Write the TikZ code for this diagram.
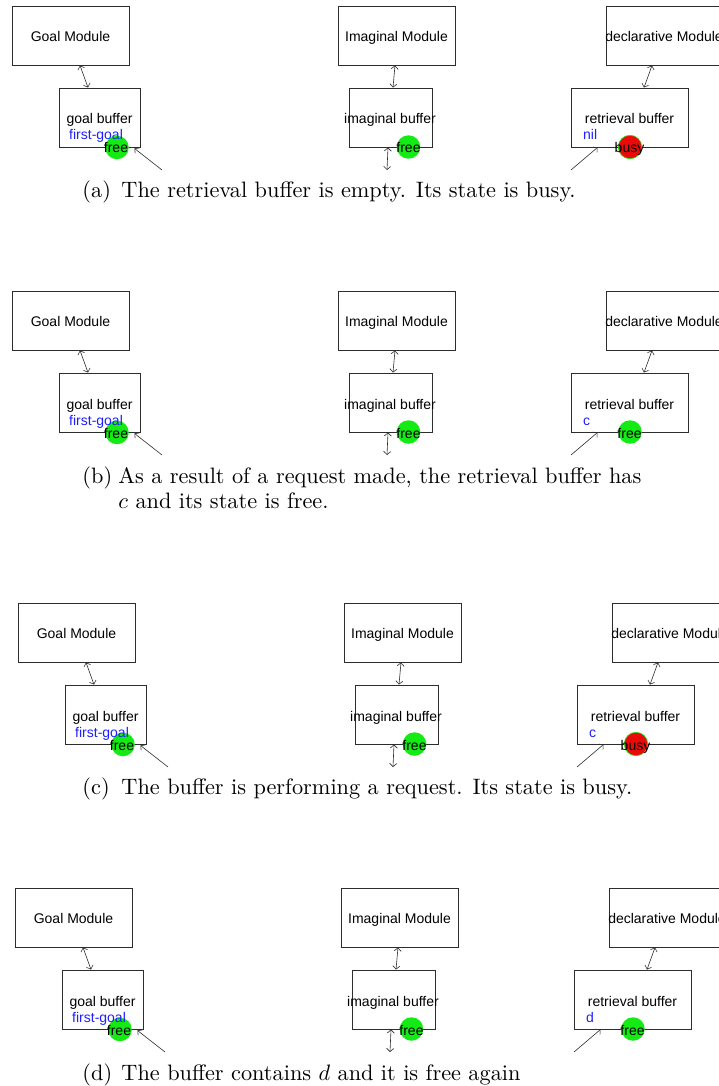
\documentclass[tikz,border=0pt]{standalone}
\usepackage{fontspec}
\newfontfamily\uifont{Liberation Sans}
\usetikzlibrary{arrows.meta}
\definecolor{fgreen}{RGB}{20,235,20}
\definecolor{bred}{RGB}{235,10,10}
\definecolor{cblue}{RGB}{30,30,255}
\definecolor{edge}{RGB}{45,45,45}
\tikzset{
  box/.style={draw=edge, line width=0.9pt, rectangle, inner sep=0pt, minimum height=59pt},
  ui/.style={font=\uifont\fontsize{14}{16}\selectfont, inner sep=0pt, anchor=base},
  content/.style={ui, text=cblue, anchor=base west},
  freecirc/.style={circle, fill=fgreen, minimum size=23.5pt, inner sep=0pt},
  busycirc/.style={circle, fill=bred, draw=fgreen, line width=0.6pt, minimum size=23.5pt, inner sep=0pt},
  darr/.style={{Straight Barb[length=3.2pt,width=7pt]}-{Straight Barb[length=3.2pt,width=7pt]}, line width=0.6pt, draw=edge},
  sarr/.style={-{Straight Barb[length=3.2pt,width=7pt]}, line width=0.6pt, draw=edge},
  captxt/.style={anchor=base west, inner sep=0pt, scale=2.23}
}
% #1 prefix, #2 dx, #3 dy, #4 retrieval content, #5 circle style, #6 state text
\newcommand\mypanel[6]{%
\begin{scope}[shift={(#2,#3)}]
  \node[box, minimum width=117pt] (#1gm) at (70.5,35.5) {};
  \node[box, minimum width=81pt]  (#1gb) at (99.5,117.5) {};
  \node[box, minimum width=117pt] (#1im) at (396.5,35.5) {};
  \node[box, minimum width=83pt]  (#1ib) at (390.5,117.5) {};
  \node[box, minimum width=117pt] (#1dm) at (664.5,35.5) {};
  \node[box, minimum width=117pt] (#1rb) at (629.5,117.5) {};
  \node[freecirc] (#1gc) at (117,147.5) {};
  \node[freecirc] (#1ic) at (408.5,147) {};
  \node[#5] (#1rc) at (630,147) {};
  \node[ui] (#1gmt) at (70.5,41.5) {Goal Module};
  \node[ui] (#1gbt) at (99.5,124) {goal buffer};
  \node[content] (#1gbc) at (69,140) {first-goal};
  \node[ui] (#1gst) at (116,153) {free};
  \node[ui] (#1imt) at (396.5,41.5) {Imaginal Module};
  \node[ui] (#1ibt) at (390,124) {imaginal buffer};
  \node[ui] (#1ist) at (408.5,153) {free};
  \begin{scope}
    \clip (#1dm.south west) rectangle (#1dm.north east);
    \node[ui] (#1dmt) at (664,41.5) {declarative Module};
  \end{scope}
  \node[ui] (#1rbt) at (629.5,124) {retrieval buffer};
  \node[content] (#1rbc) at (583,140) {#4};
  \node[ui] (#1rst) at (629.5,153) {#6};
  \draw[darr] ([xshift=9.5pt]#1gm.south) -- ([xshift=-11.5pt]#1gb.north);
  \draw[darr] ([xshift=-1.5pt]#1im.south) -- ([xshift=2.5pt]#1ib.north);
  \draw[darr] ([xshift=-12.5pt]#1dm.south) -- ([xshift=14.5pt]#1rb.north);
  \coordinate (#1gin) at (162,170);
  \coordinate (#1iin) at (387,170);
  \coordinate (#1rin) at (571,170);
  \draw[sarr] (#1gin) -- ([xshift=-6pt,yshift=-1pt]#1gb.south east);
  \draw[darr] (#1iin) -- ([xshift=-2.5pt]#1ib.south);
  \draw[sarr] (#1rin) -- ([xshift=-32pt]#1rb.south);
\end{scope}}

\begin{document}
\begin{tikzpicture}[x=1pt,y=-1pt]
\useasboundingbox (0,0) rectangle (719,1086);
\mypanel{a}{0}{0}{nil}{busycirc}{busy}
\mypanel{b}{0}{285}{c}{freecirc}{free}
\mypanel{c}{6}{597}{c}{busycirc}{busy}
\mypanel{d}{3}{882}{d}{freecirc}{free}

\node[captxt] (capal) at (82,197) {(a)};
\node[captxt] (capa) at (121,197) {The retrieval buffer is empty. Its state is busy.};
\node[captxt] (capbl) at (82,483) {(b)};
\node[captxt] (capb1) at (118,483) {As a result of a request made, the retrieval buffer has};
\node[captxt] (capb2) at (118,508) {$c$ and its state is free.};
\node[captxt] (capcl) at (82,794) {(c)};
\node[captxt] (capc) at (121,794) {The buffer is performing a request. Its state is busy.};
\node[captxt] (capdl) at (82,1080) {(d)};
\node[captxt] (capd) at (121,1080) {The buffer contains $d$ and it is free again};
\end{tikzpicture}
\end{document}
